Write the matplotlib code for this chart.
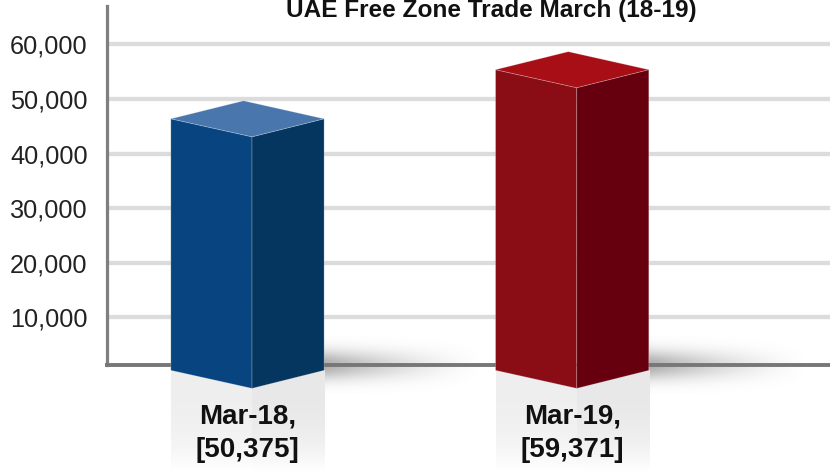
import numpy as np
import matplotlib
matplotlib.use('Agg')
import matplotlib.pyplot as plt
from matplotlib.patches import Polygon
from matplotlib.ticker import FuncFormatter

# DATA
categories = ['Mar-18', 'Mar-19']
values = [50375, 59371]
yticks = [10000, 20000, 30000, 40000, 50000, 60000]

front_cols = ['#084580', '#8a0d15']
side_cols = ['#05365f', '#67000e']
top_cols = ['#4976ad', '#a70e16']

W, H = 830, 471
fig = plt.figure(figsize=(W / 100, H / 100), dpi=100)
ax = fig.add_axes([107 / W, 1 - 365 / H, 1 - 107 / W, (365 - 6) / H])
ax.set_xlim(-0.4466, 1.780)
ax.set_ylim(1282, 67033)

# grid + axis lines
ax.set_yticks(yticks)
ax.yaxis.set_major_formatter(FuncFormatter(lambda v, p: f'{int(v):,}'))
ax.set_xticks([])
ax.grid(axis='y', color='#dcdcdc', lw=3.1, zorder=0)
for s in ['top', 'right']:
    ax.spines[s].set_visible(False)
ax.spines['left'].set_color('#7f7f7f')
ax.spines['left'].set_linewidth(2.3)
ax.spines['bottom'].set_color('#777777')
ax.spines['bottom'].set_linewidth(2.8)
ax.spines['bottom'].set_zorder(3)
ax.tick_params(axis='y', length=0, pad=14, labelsize=18.2, labelcolor='#222222')
for t in ax.get_yticklabels():
    t.set_fontfamily(['Liberation Sans', 'DejaVu Sans'])

hl, hr, bk = 0.25, 0.222, 0.026
floor_y = 300
y_bottom = -18200

for i, (c, v) in enumerate(zip(range(len(values)), values)):
    lt = (c - hl, v - 4000)
    bt = (c - bk, v - 700)
    rt = (c + hr, v - 4000)
    ft = (c, v - 7300)
    lb = (c - hl, floor_y)
    fb = (c, -3000)
    rb = (c + hr, floor_y)

    # floor shadow to the right of the bar
    nx, ny = 200, 80
    xs = np.linspace(0, 1, nx)
    ys = np.linspace(-1, 1, ny)
    X, Y = np.meshgrid(xs, ys)
    a = 0.5 * np.exp(-(Y / 0.5) ** 2) * (1 - X) ** 1.5
    img = np.zeros((ny, nx, 4))
    img[..., :3] = 0.35
    img[..., 3] = a
    ax.imshow(img, extent=(c + hr, c + hr + 0.5, -4000, 6600), aspect='auto',
              origin='lower', zorder=1, clip_on=False, interpolation='bilinear')

    # reflection below bar
    g = np.linspace(0, 1, 60)[:, None]
    for x0, x1, base in [(c - hl, c, 0.935), (c, c + hr, 0.91)]:
        rimg = np.ones((60, 2, 3))
        rimg[..., :] = (base + (1 - base) * g ** 3)[:, :, None]
        ax.imshow(rimg, extent=(x0, x1, y_bottom, floor_y), aspect='auto',
                  origin='upper', zorder=1.5, clip_on=False)

    faces = [([lt, ft, fb, lb], front_cols[i]),
             ([ft, rt, rb, fb], side_cols[i]),
             ([lt, bt, rt, ft], top_cols[i])]
    for pts, col in faces:
        ax.add_patch(Polygon(pts, closed=True, facecolor=col,
                             edgecolor=(1, 1, 1, 0.25), lw=0.6,
                             zorder=4, clip_on=False))

    xc = c + (hr - hl) / 2
    ax.text(xc, -9400, f'{categories[i]},', ha='center', va='baseline',
            fontsize=20, fontweight='bold', color='#111111',
            family=['Liberation Sans', 'DejaVu Sans'])
    ax.text(xc, -15650, f'[{v:,}]', ha='center', va='baseline',
            fontsize=20, fontweight='bold', color='#111111',
            family=['Liberation Sans', 'DejaVu Sans'])

fig.text(491 / W, 1 - 17.3 / H, 'UAE Free Zone Trade March (18-19)',
         ha='center', va='baseline', fontsize=17.6, fontweight='bold',
         color='#111111', family=['Liberation Sans', 'DejaVu Sans'])

fig.savefig('out.png', dpi=100)
